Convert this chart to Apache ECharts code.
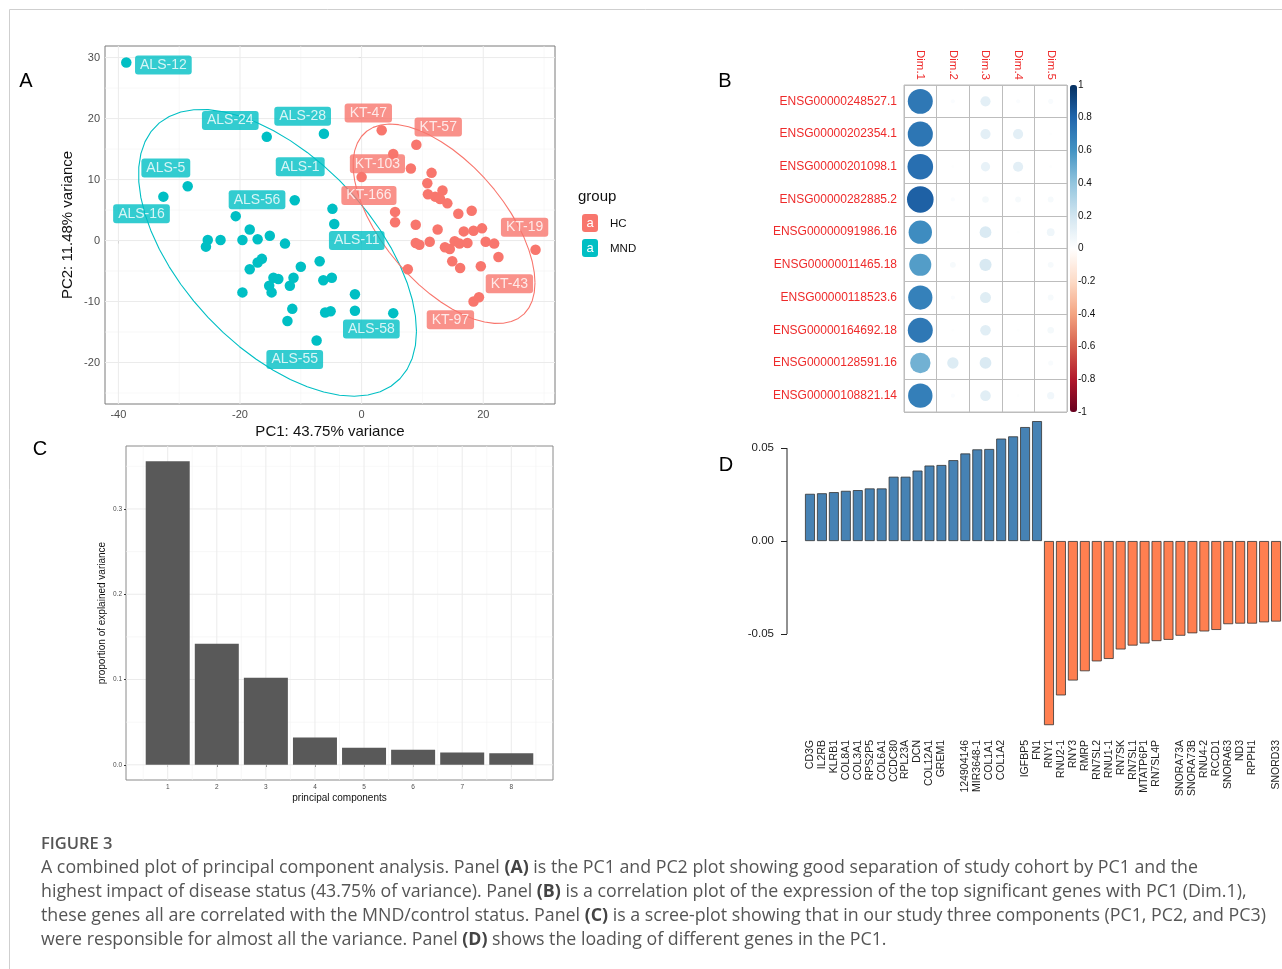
<!DOCTYPE html>
<html>
<head>
<meta charset="utf-8">
<title>Figure 3 – principal component analysis</title>
<script src="https://cdn.jsdelivr.net/npm/echarts@6/dist/echarts.min.js"></script>
<style>
  html, body { margin: 0; padding: 0; background: #fff; }
  #fig { width: 1282px; height: 969px; }
</style>
</head>
<body>
<div id="fig"></div>
<script>
// ---------- Panel A: PCA scores (PC1, PC2) ----------
const mndScores = [
  [-38.7, 29.2], [-15.6, 17.0], [-6.2, 17.5], [-28.6, 8.9], [-32.6, 7.2], [-11.0, 6.6],
  [-20.7, 4.0], [-4.8, 5.2], [-4.5, 2.7], [-25.3, 0.1], [-25.6, -1.0], [-23.2, 0.1],
  [-18.4, 1.8], [-19.6, 0.1], [-17.1, 0.2], [-15.1, 0.8], [-12.6, -0.5], [-18.4, -4.7],
  [-17.1, -3.6], [-16.4, -3.0], [-10.0, -4.3], [-6.9, -3.4], [-14.5, -6.1], [-13.7, -6.3],
  [-15.2, -7.4], [-14.8, -8.5], [-11.2, -6.1], [-11.8, -7.4], [-6.3, -6.5], [-4.9, -6.1],
  [-19.6, -8.5], [-1.1, -8.8], [-11.4, -11.2], [-12.2, -13.2], [-6.0, -11.8], [-5.1, -11.6],
  [-1.1, -11.5], [-7.4, -16.4], [5.2, -11.9]
];
const hcScores = [
  [3.3, 18.1], [9.0, 15.7], [5.2, 14.2], [8.1, 11.8], [0.0, 10.4], [11.5, 11.1],
  [10.8, 9.4], [10.9, 7.6], [12.1, 7.2], [13.3, 8.2], [14.1, 6.1], [12.9, 6.8],
  [5.5, 4.7], [5.5, 3.0], [8.9, 2.6], [15.9, 4.4], [18.1, 4.9], [12.5, 1.8],
  [16.8, 1.5], [18.4, 1.6], [19.8, 2.0], [8.9, -0.4], [9.5, -0.7], [11.2, -0.2],
  [13.7, -1.1], [14.5, -1.4], [15.3, -0.1], [16.1, -0.5], [17.4, -0.4], [20.4, -0.2],
  [21.8, -0.5], [22.5, -2.7], [14.9, -3.4], [16.2, -4.5], [19.6, -4.2], [28.6, -1.5],
  [7.6, -4.7], [18.4, -10.0], [19.3, -9.3]
];
const groupNames = ['HC', 'MND'];
const pcAxisTitles = ['PC1: 43.75% variance', 'PC2: 11.48% variance'];
const pcTicksX = [-40, -20, 0, 20];
const pcTicksY = [-20, -10, 0, 10, 20, 30];

// repelled sample tags, anchored in PC units
const mndTags = [
  ['ALS-12', -32.6, 28.8], ['ALS-24', -21.6, 19.7], ['ALS-28', -9.7, 20.4],
  ['ALS-5', -32.2, 11.9], ['ALS-1', -10.1, 12.1], ['ALS-56', -17.2, 6.7],
  ['ALS-16', -36.2, 4.4], ['ALS-55', -11.0, -19.5], ['ALS-11', -0.8, 0.0],
  ['ALS-58', 1.6, -14.5]
];
const hcTags = [
  ['KT-47', 1.1, 20.9], ['KT-57', 12.6, 18.6], ['KT-103', 2.6, 12.6],
  ['KT-166', 1.2, 7.4], ['KT-19', 26.8, 2.2], ['KT-43', 24.3, -7.1], ['KT-97', 14.6, -13.0]
];

// ---------- Panel B: gene / dimension correlations ----------
const dimNames = ['Dim.1', 'Dim.2', 'Dim.3', 'Dim.4', 'Dim.5'];
const geneIds = [
  'ENSG00000248527.1', 'ENSG00000202354.1', 'ENSG00000201098.1', 'ENSG00000282885.2',
  'ENSG00000091986.16', 'ENSG00000011465.18', 'ENSG00000118523.6', 'ENSG00000164692.18',
  'ENSG00000128591.16', 'ENSG00000108821.14'
];
const corDim1 = [0.72, 0.73, 0.76, 0.82, 0.63, 0.56, 0.68, 0.72, 0.48, 0.69];
const corDim2 = [0.02, 0.00, 0.01, 0.02, 0.00, 0.04, 0.02, 0.01, 0.15, 0.02];
const corDim3 = [0.12, 0.12, 0.10, 0.05, 0.16, 0.17, 0.14, 0.13, 0.16, 0.13];
const corDim4 = [0.02, 0.12, 0.12, 0.04, 0.01, 0.00, 0.00, 0.01, 0.00, 0.01];
const corDim5 = [0.03, 0.01, 0.01, 0.04, 0.07, 0.04, 0.04, 0.05, 0.03, 0.06];
const corLegendTicks = [-1, -0.8, -0.6, -0.4, -0.2, 0, 0.2, 0.4, 0.6, 0.8, 1];

// ---------- Panel C: scree plot ----------
const componentIndex = [1, 2, 3, 4, 5, 6, 7, 8];
const explainedShare = [0.356, 0.142, 0.102, 0.032, 0.020, 0.0176, 0.0145, 0.0137];
const screeTicksY = [0, 0.1, 0.2, 0.3];

// ---------- Panel D: PC1 loadings ----------
const loadingGenes = [
  'CD3G', 'IL2RB', 'KLRB1', 'COL8A1', 'COL3A1', 'RPS2P5', 'COL6A1', 'CCDC80', 'RPL23A', 'DCN',
  'COL12A1', 'GREM1', ' ', '124904146', 'MIR3648-1', 'COL1A1', 'COL1A2', '  ', 'IGFBP5', 'FN1',
  'RNY1', 'RNU2-1', 'RNY3', 'RMRP', 'RN7SL2', 'RNU1-1', 'RN7SK', 'RN7SL1', 'MTATP6P1', 'RN7SL4P',
  '   ', 'SNORA73A', 'SNORA73B', 'RNU4-2', 'RCCD1', 'SNORA63', 'ND3', 'RPPH1', '    ', 'SNORD33'
];
const loadingValues = [
  0.0254, 0.0257, 0.0263, 0.0270, 0.0274, 0.0283, 0.0283, 0.0346, 0.0346, 0.0379,
  0.0406, 0.0409, 0.0435, 0.0471, 0.0493, 0.0495, 0.0551, 0.0563, 0.0613, 0.0645,
  -0.0990, -0.0830, -0.0750, -0.0700, -0.0647, -0.0634, -0.0583, -0.0562, -0.0551, -0.0538,
  -0.0531, -0.0509, -0.0496, -0.0486, -0.0478, -0.0447, -0.0444, -0.0444, -0.0437, -0.0433
];
const loadingTicks = [-0.05, 0, 0.05];

// ---------- helpers ----------
const FONT = '"Liberation Sans", Arial, Helvetica, sans-serif';
const CAP_FONT = '"Open Sans", "Noto Sans", sans-serif';
const HC_COL = '#F8766D';
const MND_COL = '#00BFC4';
const RDBU = ['#67001F', '#B2182B', '#D6604D', '#F4A582', '#FDDBC7', '#FFFFFF',
              '#D1E5F0', '#92C5DE', '#4393C3', '#2166AC', '#053061'];

// axis extents of the two ggplot panels (data range plus expansion)
const A_X = [-42.2, 31.8], A_Y = [-26.8, 31.9];
const C_X = [0.15, 8.85], C_Y = [-0.0178, 0.3738];

// mean and unbiased covariance of a point cloud
function meanCov(pts) {
  const n = pts.length;
  const m = [0, 0];
  pts.forEach(q => { m[0] += q[0] / n; m[1] += q[1] / n; });
  let a = 0, b = 0, c = 0;
  pts.forEach(q => {
    const dx = q[0] - m[0], dy = q[1] - m[1];
    a += dx * dx / (n - 1); b += dx * dy / (n - 1); c += dy * dy / (n - 1);
  });
  return { center: m, cov: [[a, b], [b, c]] };
}

// 95% normal confidence ellipse (stat_ellipse, type = "norm")
function confidenceEllipse(pts, level = 0.95, segments = 51) {
  const dfd = pts.length - 1;
  const { center, cov } = meanCov(pts);
  const fq = (dfd / 2) * (Math.pow(1 - level, -2 / dfd) - 1);   // F(2, dfd) quantile
  const radius = Math.sqrt(2 * fq);
  const r11 = Math.sqrt(cov[0][0]);
  const r12 = cov[0][1] / r11;
  const r22 = Math.sqrt(cov[1][1] - r12 * r12);
  const out = [];
  for (let i = 0; i <= segments; i++) {
    const t = i * 2 * Math.PI / segments, ct = Math.cos(t), st = Math.sin(t);
    out.push([center[0] + radius * ct * r11, center[1] + radius * (ct * r12 + st * r22)]);
  }
  return out;
}

function midpoints(ticks, lo, hi) {
  const step = ticks[1] - ticks[0], out = [];
  for (let v = ticks[0] - step / 2; v <= ticks[ticks.length - 1] + step / 2 + 1e-9; v += step) {
    if (v > lo && v < hi) out.push(+v.toFixed(6));
  }
  return out;
}

// background panel grid lines (ggplot theme_bw look), one line series per rule
function panelGrid(ai, xr, yr, xMajor, xMinor, yMajor, yMinor) {
  const major = { color: '#ebebeb', width: 1 };
  const minor = { color: '#f3f3f3', width: 0.6 };
  const rule = (pts, style) => ({
    type: 'line', xAxisIndex: ai, yAxisIndex: ai, data: pts, silent: true, z: 1,
    showSymbol: false, symbol: 'none', lineStyle: style, emphasis: { disabled: true }
  });
  return [
    ...xMinor.map(v => rule([[v, yr[0]], [v, yr[1]]], minor)),
    ...yMinor.map(v => rule([[xr[0], v], [xr[1], v]], minor)),
    ...xMajor.map(v => rule([[v, yr[0]], [v, yr[1]]], major)),
    ...yMajor.map(v => rule([[xr[0], v], [xr[1], v]], major))
  ];
}

function tagSeries(tags, color) {
  return {
    type: 'scatter', xAxisIndex: 0, yAxisIndex: 0, z: 5, silent: true,
    symbolSize: 0,
    data: tags.map(t => ({ name: t[0], value: [t[1], t[2]] })),
    label: {
      show: true, position: 'inside', formatter: '{b}',
      color: '#fff', fontSize: 14, fontFamily: FONT,
      backgroundColor: color, padding: [3, 5, 2, 5], borderRadius: 3
    }
  };
}

const corData = [];
[corDim1, corDim2, corDim3, corDim4, corDim5].forEach((col, d) =>
  col.forEach((r, g) => corData.push([d, g, r])));

const baseTick = { show: true, length: 3, lineStyle: { color: '#333', width: 1 } };
const greyLabel = (size, extra) => Object.assign({ color: '#4d4d4d', fontSize: size, fontFamily: FONT }, extra || {});

const corrSeries = {
  id: 'corr', type: 'scatter', xAxisIndex: 1, yAxisIndex: 1, z: 3,
  data: corData,
  symbolSize: v => 29.4 * Math.sqrt(Math.abs(v[2])),
  itemStyle: { opacity: 1 }
};

const series = [
  ...panelGrid(0, A_X, A_Y, pcTicksX, midpoints(pcTicksX, A_X[0], A_X[1]), pcTicksY, midpoints(pcTicksY, A_Y[0], A_Y[1])),
  {
    type: 'line', xAxisIndex: 0, yAxisIndex: 0, z: 2, silent: true,
    data: confidenceEllipse(mndScores), showSymbol: false, symbol: 'none', smooth: false,
    lineStyle: { color: MND_COL, width: 1.1 }
  },
  {
    type: 'line', xAxisIndex: 0, yAxisIndex: 0, z: 2, silent: true,
    data: confidenceEllipse(hcScores), showSymbol: false, symbol: 'none', smooth: false,
    lineStyle: { color: HC_COL, width: 1.1 }
  },
  {
    name: groupNames[1], type: 'scatter', xAxisIndex: 0, yAxisIndex: 0, z: 3,
    data: mndScores, symbolSize: 10.5, itemStyle: { color: MND_COL, opacity: 1 }
  },
  {
    name: groupNames[0], type: 'scatter', xAxisIndex: 0, yAxisIndex: 0, z: 3,
    data: hcScores, symbolSize: 10.5, itemStyle: { color: HC_COL, opacity: 1 }
  },
  tagSeries(mndTags, MND_COL),
  tagSeries(hcTags, HC_COL),
  corrSeries,
  ...panelGrid(3, C_X, C_Y, componentIndex, midpoints(componentIndex, C_X[0], C_X[1]), screeTicksY, midpoints(screeTicksY, C_Y[0], C_Y[1])),
  {
    type: 'bar', xAxisIndex: 3, yAxisIndex: 3, z: 2,
    data: componentIndex.map((c, i) => [c, explainedShare[i]]),
    barWidth: 44, itemStyle: { color: '#595959' }
  },
  {
    type: 'bar', xAxisIndex: 4, yAxisIndex: 4, z: 2,
    data: loadingValues, barCategoryGap: '17%',
    itemStyle: {
      color: p => (p.value >= 0 ? '#4682B4' : '#FF7F50'),
      borderColor: '#333', borderWidth: 0.8
    }
  }
];
const corrIndex = series.indexOf(corrSeries);

const option = {
  animation: false,
  backgroundColor: '#fff',
  textStyle: { fontFamily: FONT },
  grid: [
    { left: 105, top: 46, width: 450, height: 358, show: true, borderColor: '#7a7a7a', borderWidth: 1, backgroundColor: 'transparent' },
    { left: 904, top: 85, width: 163, height: 327, show: true, borderColor: '#bdbdbd', borderWidth: 1 },
    { left: 1070, top: 85, width: 7, height: 327 },
    { left: 126, top: 446, width: 427, height: 334, show: true, borderColor: '#8a8a8a', borderWidth: 1 },
    { left: 804, top: 412, width: 479, height: 323 }
  ],
  xAxis: [
    {
      gridIndex: 0, type: 'value', min: A_X[0], max: A_X[1],
      name: pcAxisTitles[0], nameLocation: 'middle', nameGap: 20,
      nameTextStyle: { fontSize: 15, color: '#111', fontFamily: FONT },
      axisLine: { show: false }, splitLine: { show: false },
      axisTick: Object.assign({ customValues: pcTicksX }, baseTick),
      axisLabel: greyLabel(11, { customValues: pcTicksX, margin: 5 })
    },
    {
      gridIndex: 1, type: 'category', data: dimNames, position: 'top',
      axisLine: { show: false }, axisTick: { show: false },
      axisLabel: { interval: 0, rotate: 90, color: '#ee2a2a', fontSize: 11.5, margin: 5, fontFamily: FONT },
      splitLine: { show: true, interval: 0, lineStyle: { color: '#bdbdbd', width: 1 } }
    },
    { gridIndex: 2, type: 'value', show: false },
    {
      gridIndex: 3, type: 'value', min: C_X[0], max: C_X[1],
      name: 'principal components', nameLocation: 'middle', nameGap: 13,
      nameTextStyle: { fontSize: 10, color: '#111', fontFamily: FONT },
      axisLine: { show: false }, splitLine: { show: false },
      axisTick: { show: true, length: 2, customValues: componentIndex, lineStyle: { color: '#333' } },
      axisLabel: greyLabel(6.5, { customValues: componentIndex, margin: 4 })
    },
    {
      gridIndex: 4, type: 'category', data: loadingGenes,
      axisLine: { show: false }, axisTick: { show: false },
      axisLabel: { interval: 0, rotate: 90, fontSize: 10.5, color: '#222', margin: 5, fontFamily: FONT }
    }
  ],
  yAxis: [
    {
      gridIndex: 0, type: 'value', min: A_Y[0], max: A_Y[1],
      name: pcAxisTitles[1], nameLocation: 'middle', nameGap: 30,
      nameTextStyle: { fontSize: 15, color: '#111', fontFamily: FONT },
      axisLine: { show: false }, splitLine: { show: false },
      axisTick: Object.assign({ customValues: pcTicksY }, baseTick),
      axisLabel: greyLabel(11, { customValues: pcTicksY, margin: 5 })
    },
    {
      gridIndex: 1, type: 'category', data: geneIds, inverse: true,
      axisLine: { show: false }, axisTick: { show: false },
      axisLabel: { interval: 0, color: '#ee2a2a', fontSize: 12, margin: 7, fontFamily: FONT },
      splitLine: { show: true, interval: 0, lineStyle: { color: '#bdbdbd', width: 1 } }
    },
    {
      gridIndex: 2, type: 'value', min: -1, max: 1, interval: 0.2, position: 'right',
      axisLine: { show: false }, axisTick: { show: false }, splitLine: { show: false },
      axisLabel: {
        customValues: corLegendTicks, margin: 1, fontSize: 10, color: '#111', fontFamily: FONT,
        formatter: v => String(+v.toFixed(1))
      }
    },
    {
      gridIndex: 3, type: 'value', min: C_Y[0], max: C_Y[1],
      name: 'proportion of explained variance', nameLocation: 'middle', nameGap: 19,
      nameTextStyle: { fontSize: 10, color: '#111', fontFamily: FONT },
      axisLine: { show: false }, splitLine: { show: false },
      axisTick: { show: true, length: 2, customValues: screeTicksY, lineStyle: { color: '#333' } },
      axisLabel: greyLabel(6.5, { customValues: screeTicksY, margin: 4, formatter: v => v.toFixed(1) })
    },
    {
      gridIndex: 4, type: 'value', min: -0.1043, max: 0.0694, offset: 17,
      axisLine: { show: false }, splitLine: { show: false },
      axisTick: { show: true, length: 6, customValues: loadingTicks, lineStyle: { color: '#222' } },
      axisLabel: { customValues: loadingTicks, margin: 13, fontSize: 11.5, color: '#222', fontFamily: FONT,
                   formatter: v => v.toFixed(2) }
    }
  ],
  visualMap: [{
    type: 'continuous', min: -1, max: 1, seriesIndex: corrIndex, dimension: 2,
    inRange: { color: RDBU },
    orient: 'vertical', left: 1070, top: 85, padding: 0,
    itemWidth: 7, itemHeight: 327, calculable: false, hoverLink: false,
    text: null, showLabel: false
  }],
  series: series
};

const chart = echarts.init(document.getElementById('fig'));
chart.setOption(option);

// ---------- annotations, legend, caption ----------
const yTop = chart.convertToPixel({ yAxisIndex: 4 }, loadingTicks[loadingTicks.length - 1]);
const yBot = chart.convertToPixel({ yAxisIndex: 4 }, loadingTicks[0]);

const capBase = { fontSize: 17.8, fontFamily: CAP_FONT, fill: '#555' };
const capRich = { b: { fontSize: 17.8, fontFamily: CAP_FONT, fontWeight: 'bold', fill: '#444' } };
const captionLines = [
  'A combined plot of principal component analysis. Panel {b|(A)} is the PC1 and PC2 plot showing good separation of study cohort by PC1 and the',
  'highest impact of disease status (43.75% of variance). Panel {b|(B)} is a correlation plot of the expression of the top significant genes with PC1 (Dim.1),',
  'these genes all are correlated with the MND/control status. Panel {b|(C)} is a scree-plot showing that in our study three components (PC1, PC2, and PC3)',
  'were responsible for almost all the variance. Panel {b|(D)} shows the loading of different genes in the PC1.'
];

const legendKey = (y, color, label) => ([
  { type: 'rect', shape: { x: 582, y: y, width: 16, height: 18, r: 3 }, style: { fill: color } },
  { type: 'text', style: { x: 590, y: y + 9, text: 'a', fill: '#fff', fontSize: 13, fontFamily: FONT, align: 'center', verticalAlign: 'middle' } },
  { type: 'text', style: { x: 610, y: y + 10, text: label, fill: '#111', fontSize: 11.5, fontFamily: FONT, verticalAlign: 'middle' } }
]);

const panelLetter = (x, y, t) => ({
  type: 'text', style: { x: x, y: y, text: t, fill: '#000', fontSize: 20, fontFamily: FONT, align: 'center', verticalAlign: 'middle' }
});

chart.setOption({
  graphic: [
    { type: 'line', shape: { x1: 9.5, y1: 9.5, x2: 1282, y2: 9.5 }, style: { stroke: '#cfcfcf', lineWidth: 1 }, silent: true },
    { type: 'line', shape: { x1: 9.5, y1: 9.5, x2: 9.5, y2: 969 }, style: { stroke: '#cfcfcf', lineWidth: 1 }, silent: true },
    panelLetter(26, 81, 'A'),
    panelLetter(725, 81, 'B'),
    panelLetter(40, 449, 'C'),
    panelLetter(726, 465, 'D'),
    { type: 'text', style: { x: 578, y: 197, text: 'group', fill: '#111', fontSize: 15, fontFamily: FONT, verticalAlign: 'middle' } },
    ...legendKey(214, HC_COL, groupNames[0]),
    ...legendKey(239, MND_COL, groupNames[1]),
    { type: 'line', shape: { x1: 787, y1: yTop, x2: 787, y2: yBot }, style: { stroke: '#222', lineWidth: 1 }, silent: true },
    { type: 'text', style: Object.assign({}, capBase, { x: 41, y: 844, text: 'FIGURE 3', fontSize: 16.5, fontWeight: 600, verticalAlign: 'middle', fill: '#555' }) },
    ...captionLines.map((t, i) => ({
      type: 'text',
      style: Object.assign({ x: 41, y: 868 + i * 24, text: t, verticalAlign: 'middle', rich: capRich }, capBase)
    }))
  ]
});
</script>
</body>
</html>
